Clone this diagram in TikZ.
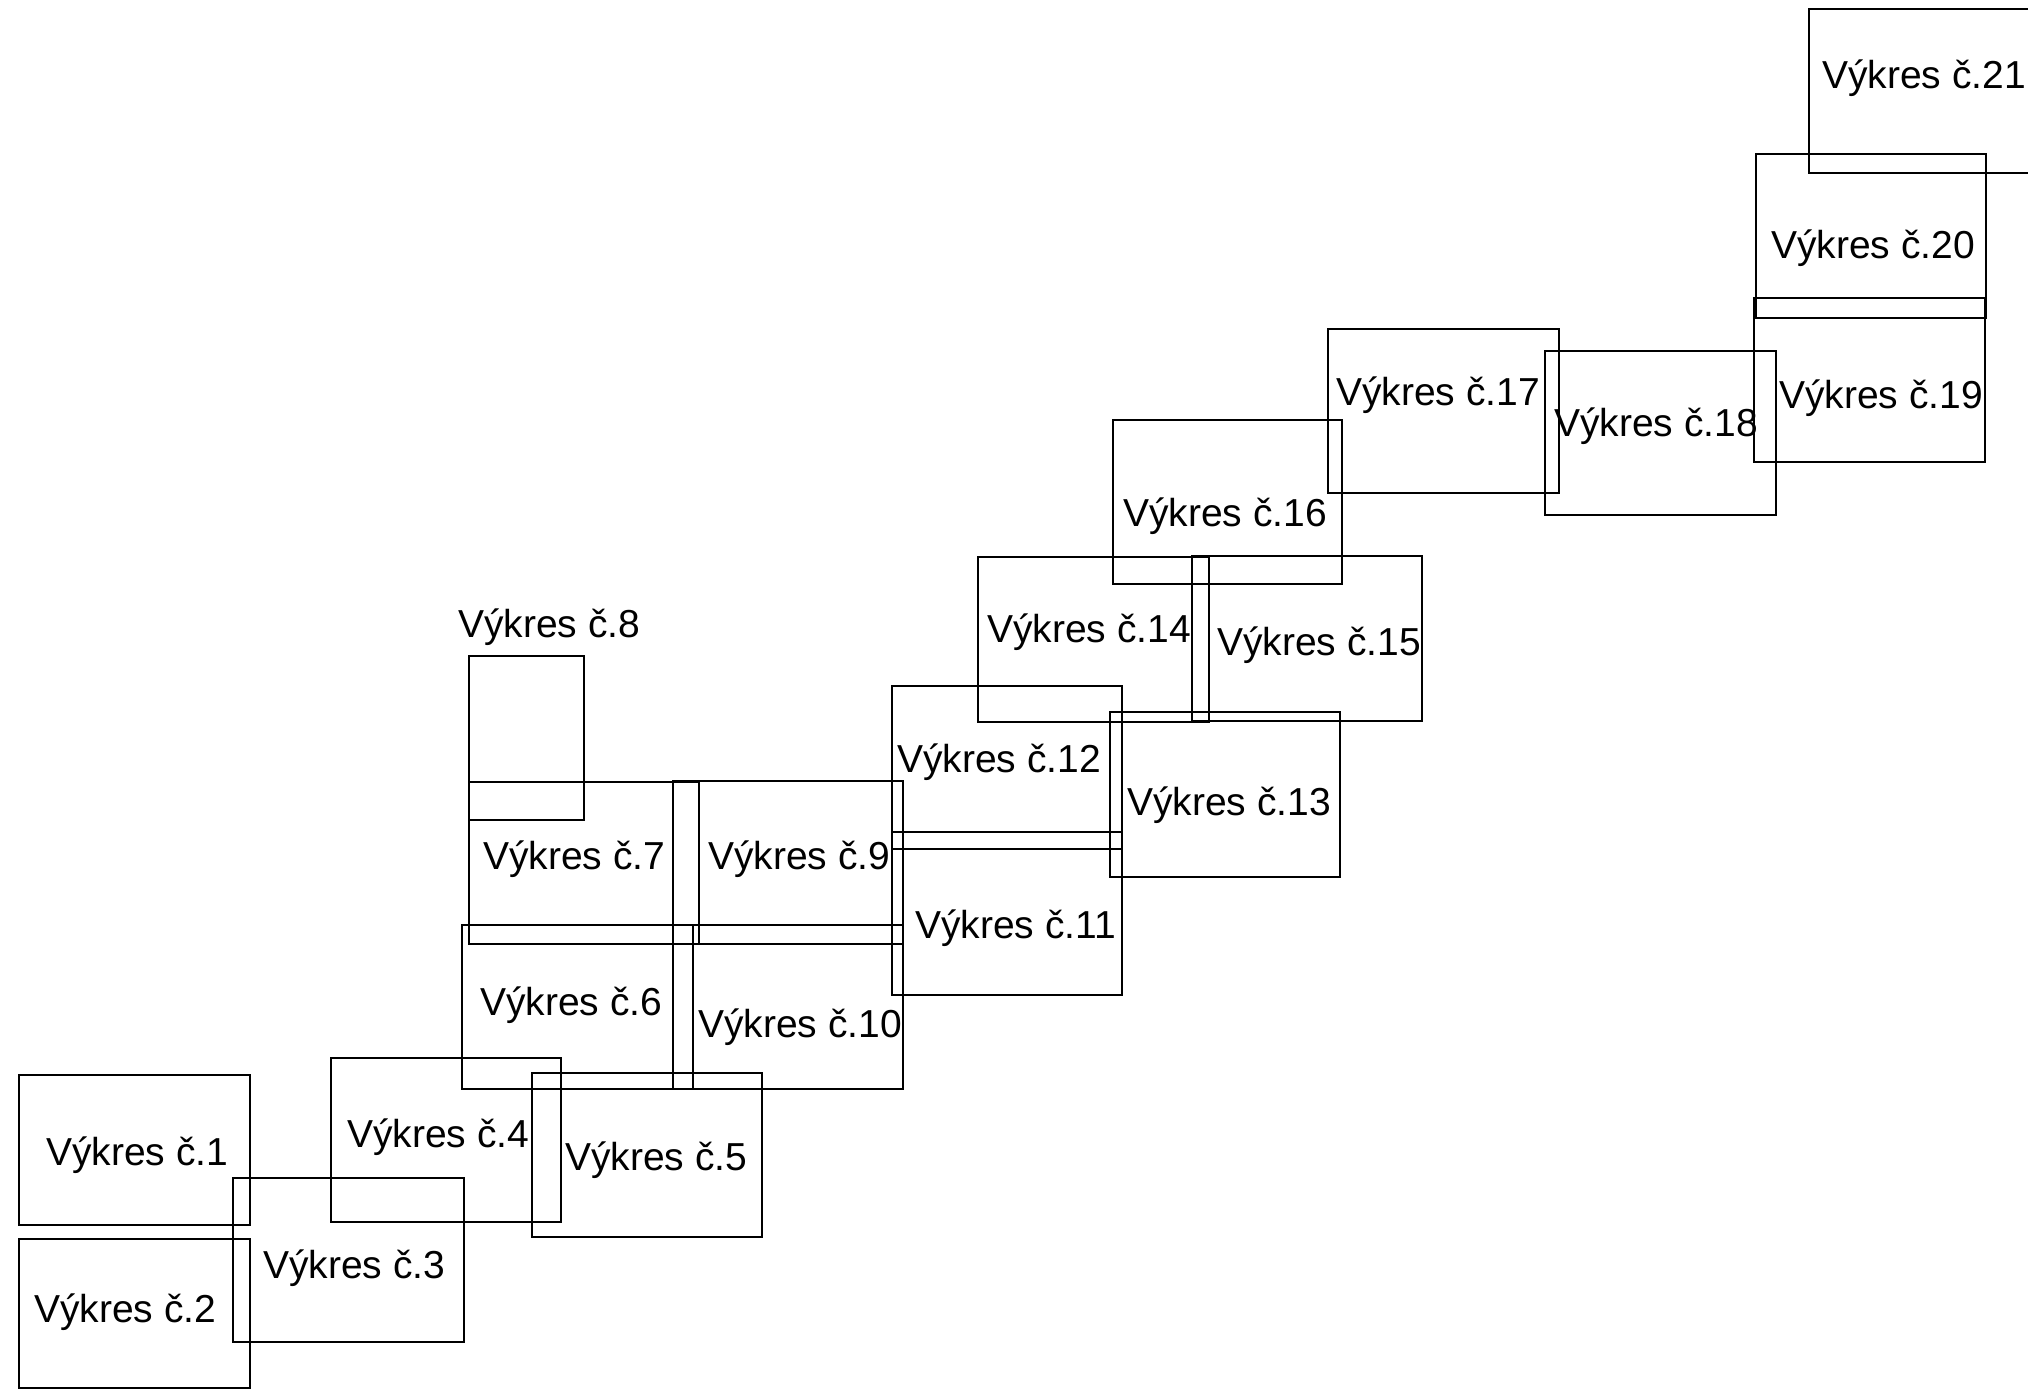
\documentclass[tikz,border=0pt]{standalone}
\usepackage{fontspec}
\setmainfont{Liberation Sans}
\begin{document}
\begin{tikzpicture}[x=0.02cm, y=-0.02cm, line width=1.3pt, line join=miter,
	label/.style={anchor=base west, inner sep=0pt, font=\fontsize{22.2}{26}\selectfont}]
	\def\xmax{2028} \def\ymax{1390}
	\useasboundingbox (0,0) rectangle (\xmax,\ymax);
	\clip (0,0) rectangle (\xmax,\ymax);
	% sheets: number / top left / bottom right / text
	\foreach \n/\xa/\ya/\xb/\yb/\tx/\ty in {
		1/19/1075/250/1225/45/1165,
		2/19/1239/250/1388/33/1322,
		3/233/1178/464/1342/262/1278,
		4/331/1058/561/1222/346/1147,
		5/532/1073/762/1237/564/1170,
		6/462/925/693/1089/479/1015,
		7/469/782/699/944/482/869,
		8/469/656/584/820/457/637,
		9/673/781/903/944/707/869,
		10/673/925/903/1089/697/1037,
		11/892/832/1122/995/914/938,
		12/892/686/1122/849/896/772,
		13/1110/712/1340/877/1126/815,
		14/978/557/1209/722/986/642,
		15/1192/556/1422/721/1216/655,
		16/1113/420/1342/584/1122/526,
		17/1328/329/1559/493/1335/405,
		18/1545/351/1776/515/1553/436,
		19/1754/298/1985/462/1778/408,
		20/1756/154/1986/318/1770/258,
		21/1809/9/2040/173/1821/88}
	{
		\draw (\xa,\ya) rectangle (\xb,\yb);
		\node[label] (v\n) at (\tx,\ty) {Výkres č.\n};
	}
\end{tikzpicture}
\end{document}
